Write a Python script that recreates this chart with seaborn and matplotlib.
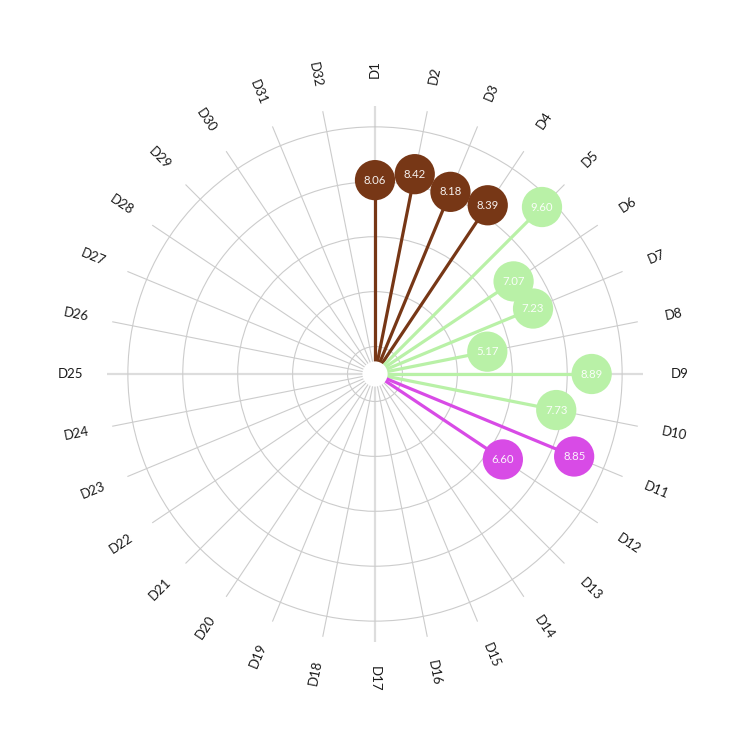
import numpy as np
import pandas as pd
import matplotlib
matplotlib.use("Agg")
import matplotlib.pyplot as plt
import seaborn as sns

# ---- data ----
categories = [f"D{i}" for i in range(1, 33)]
value_labels = ["D1", "D2", "D3", "D4", "D5", "D6", "D7", "D8", "D9", "D10", "D11", "D12"]
values = [8.06, 8.42, 8.18, 8.39, 9.60, 7.07, 7.23, 5.17, 8.89, 7.73, 8.85, 6.60]
groups = ["A", "A", "A", "A", "B", "B", "B", "B", "B", "B", "C", "C"]
palette = {"A": "#773716", "B": "#b9f1a7", "C": "#d84be6"}

sns.set_theme(style="white")
plt.rcParams['font.family'] = ['Lato', 'DejaVu Sans']

n = len(categories)
angles = np.arange(n) * 2 * np.pi / n
theta_of = dict(zip(categories, angles))

df = pd.DataFrame({"cat": value_labels, "value": values, "group": groups})
df["theta"] = df["cat"].map(theta_of)

fig = plt.figure(figsize=(7.5, 7.5), dpi=100)
ax = fig.add_axes([107 / 750, 108 / 750, 536 / 750, 536 / 750], projection="polar")
ax.set_theta_zero_location("N")
ax.set_theta_direction(-1)
rmin, rmax = 1.0, 10.76
ax.set_ylim(rmin, rmax)
ax.spines['polar'].set_visible(False)
ax.set_facecolor("white")

ax.set_rgrids([2, 4, 6, 8, 10], labels=[])
ax.set_thetagrids(np.degrees(angles), labels=[])
ax.yaxis.grid(True, color="#cccccc", linewidth=0.8)
ax.xaxis.grid(True, color="#cccccc", linewidth=0.8)
for i, gl in enumerate(ax.xaxis.get_gridlines()):
    if i % 8 == 0:
        gl.set_color("#dddddd")
        gl.set_linewidth(1.6)

# stems
for _, row in df.iterrows():
    ax.plot([row.theta, row.theta], [rmin, row.value], color=palette[row.group],
            linewidth=2.3, solid_capstyle="butt", zorder=3)

sns.scatterplot(data=df, x="theta", y="value", hue="group", palette=palette,
                s=840, edgecolor="none", linewidth=0, legend=False, ax=ax, zorder=4)
ax.set_xlabel("")
ax.set_ylabel("")

for _, row in df.iterrows():
    ax.text(row.theta, row.value, f"{row.value:.2f}", ha="center", va="center",
            color="white", alpha=0.92, fontsize=8.2, zorder=5)

# center hole
ax.scatter([0], [rmin], s=330, color="white", zorder=6, edgecolor="none")

# category labels
for cat, th in zip(categories, angles):
    deg = np.degrees(th)
    rot = 90 - deg if deg <= 180 else 270 - deg
    ax.text(th, 12.1, cat, ha="center", va="center", rotation=rot,
            rotation_mode="anchor", fontsize=9.5, color="#1a1a1a", clip_on=False)

fig.savefig("out.png", dpi=100, facecolor="white")
